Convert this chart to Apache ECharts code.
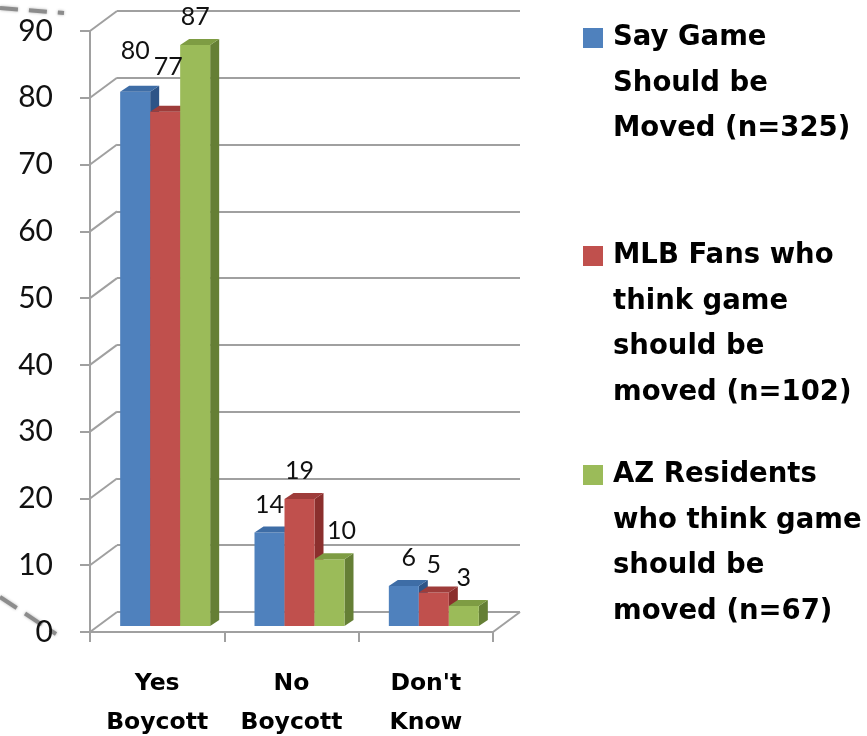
<!DOCTYPE html>
<html>
<head>
<meta charset="utf-8">
<script src="https://cdn.jsdelivr.net/npm/echarts@6/dist/echarts.min.js"></script>
<style>html,body{margin:0;padding:0;background:#fff}#c{width:867px;height:736px}</style>
</head>
<body>
<div id="c"></div>
<script>
// ---- data ----
const categories = ['Yes\nBoycott', 'No\nBoycott', "Don't\nKnow"];
const seriesNames = [
  'Say Game Should be Moved (n=325)',
  'MLB Fans who think game should be moved (n=102)',
  'AZ Residents who think game should be moved (n=67)'
];
const legendLines = [
  ['Say Game', 'Should be', 'Moved (n=325)'],
  ['MLB Fans who', 'think game', 'should be', 'moved (n=102)'],
  ['AZ Residents', 'who think game', 'should be', 'moved (n=67)']
];
const sayGameMoved = [80, 14, 6];
const mlbFans = [77, 19, 5];
const azResidents = [87, 10, 3];
const yTicks = [0, 10, 20, 30, 40, 50, 60, 70, 80, 90];

// ---- styles ----
const FONT = 'Lato, "Open Sans", sans-serif';
const BOLD_FONT = '"DejaVu Sans", sans-serif';
const GRID_COLOR = '#A0A0A0';
const faces = [
  { front: '#4F81BD', top: '#3E6DA6', side: '#2E5487' },
  { front: '#C0504D', top: '#9E3C3A', side: '#8B2F2D' },
  { front: '#9BBB59', top: '#7E9C43', side: '#657F35' }
];
const BW = 30, DX = 9, DY = 6, LABEL_LIFT = 28;
const labelNudge = { '0-0': [0, -13], '1-0': [3, -17], '2-1': [12, 0], '0-2': [5, 0] };
const legendTops = [19, 237, 456];

const allValues = [sayGameMoved, mlbFans, azResidents];

function barRender(k) {
  return function (params, api) {
    const ci = api.value(0), v = api.value(1);
    const base = api.coord([ci, 0]);
    const top = api.coord([ci, v]);
    const x0 = base[0] - 1.5 * BW + k * BW;
    const x1 = x0 + BW;
    const yt = top[1], yb = base[1];
    const f = faces[k];
    const nud = labelNudge[k + '-' + ci] || [0, 0];
    return {
      type: 'group',
      children: [
        { type: 'polygon', shape: { points: [[x1, yt], [x1 + DX, yt - DY], [x1 + DX, yb - DY], [x1, yb]] }, style: { fill: f.side } },
        { type: 'rect', shape: { x: x0, y: yt, width: BW, height: yb - yt }, style: { fill: f.front } },
        { type: 'polygon', shape: { points: [[x0, yt], [x1, yt], [x1 + DX, yt - DY], [x0 + DX, yt - DY]] }, style: { fill: f.top } },
        { type: 'text', z2: 100, style: { text: String(v), x: (x0 + x1) / 2 + nud[0], y: yt - LABEL_LIFT + nud[1], align: 'center', verticalAlign: 'middle', fontSize: 25, fontFamily: FONT, fill: '#111' } }
      ]
    };
  };
}

const legendFormatter = function (name) {
  const i = seriesNames.indexOf(name);
  const lines = legendLines[i];
  let s = '{sq' + i + '|}{gap|}{t|' + lines[0] + '}';
  for (let j = 1; j < lines.length; j++) s += '\n{sp|}{t|' + lines[j] + '}';
  for (let j = lines.length; j < 4; j++) s += '\n{sp|}';
  return s;
};
const LH = 45.5;
const rich = {
  gap: { width: 10, lineHeight: LH },
  sp: { width: 30, lineHeight: LH },
  t: { fontSize: 27.5, fontWeight: 'bold', fontFamily: BOLD_FONT, color: '#000', lineHeight: LH }
};
faces.forEach((f, i) => { rich['sq' + i] = { width: 20, height: 20, backgroundColor: f.front, lineHeight: LH }; });

const chart = echarts.init(document.getElementById('c'));
chart.setOption({
  animation: false,
  backgroundColor: '#fff',
  grid: [
    { left: 98, top: 25, width: 403, height: 601, outerBoundsMode: 'none', containLabel: false },   // bars (mid depth)
    { left: 117, top: 11, width: 403, height: 601, outerBoundsMode: 'none', containLabel: false },  // back wall
    { left: 90, top: 31, width: 403, height: 601, outerBoundsMode: 'none', containLabel: false }    // front axes
  ],
  xAxis: [
    { gridIndex: 0, type: 'category', data: categories, show: false },
    { gridIndex: 1, type: 'category', data: categories, show: false },
    {
      gridIndex: 2, type: 'category', data: categories,
      axisLine: { lineStyle: { color: GRID_COLOR, width: 2 } },
      axisTick: { show: true, length: 10, interval: 0, lineStyle: { color: GRID_COLOR, width: 2 } },
      axisLabel: { interval: 0, margin: 32, fontSize: 23.5, fontWeight: 'bold', fontFamily: BOLD_FONT, color: '#000', lineHeight: 39 }
    }
  ],
  yAxis: [
    { gridIndex: 0, type: 'value', min: 0, max: 90, interval: 10, show: false },
    {
      gridIndex: 1, type: 'value', min: 0, max: 90, interval: 10,
      axisLine: { show: false }, axisTick: { show: false }, axisLabel: { show: false },
      splitLine: { show: true, lineStyle: { color: GRID_COLOR, width: 2 } }
    },
    {
      gridIndex: 2, type: 'value', min: 0, max: 90, interval: 10,
      axisLine: { show: true, lineStyle: { color: GRID_COLOR, width: 2 } },
      axisTick: { show: true, length: 10, lineStyle: { color: GRID_COLOR, width: 2 } },
      splitLine: { show: false },
      axisLabel: { margin: 37, fontSize: 30, fontFamily: FONT, color: '#111', padding: [6, 0, 0, 0] }
    }
  ],
  legend: seriesNames.map((nm, i) => ({
    orient: 'vertical', left: 573, top: legendTops[i],
    icon: 'none', itemWidth: 0, itemHeight: 10,
    selectedMode: false,
    data: [nm],
    formatter: legendFormatter,
    textStyle: { rich: rich }
  })),
  graphic: [
    { type: 'polyline', shape: { points: [[0, 8], [64, 13]] }, style: { stroke: '#8c8c8c', lineWidth: 4, lineDash: [18, 11], shadowBlur: 3, shadowColor: 'rgba(0,0,0,0.3)' } },
    { type: 'polyline', shape: { points: [[0, 597], [56, 634]] }, style: { stroke: '#8c8c8c', lineWidth: 4, lineDash: [20, 10], shadowBlur: 3, shadowColor: 'rgba(0,0,0,0.3)' } }
  ],
  series: [
    {
      type: 'custom', name: 'connectors', xAxisIndex: 2, yAxisIndex: 2,
      data: yTicks.map(v => [0, v]),
      renderItem: function (params, api) {
        const cs = params.coordSys;
        const y = api.coord([0, api.value(1)])[1];
        return { type: 'line', shape: { x1: cs.x, y1: y, x2: cs.x + 27, y2: y - 20 }, style: { stroke: GRID_COLOR, lineWidth: 2 } };
      }
    },
    {
      type: 'custom', name: 'floorEdge', xAxisIndex: 2, yAxisIndex: 2,
      data: [[categories.length - 1, 0]],
      renderItem: function (params, api) {
        const cs = params.coordSys;
        const y = api.coord([0, 0])[1];
        return { type: 'line', shape: { x1: cs.x + cs.width, y1: y, x2: cs.x + cs.width + 27, y2: y - 20 }, style: { stroke: GRID_COLOR, lineWidth: 2 } };
      }
    }
  ].concat(allValues.map((vals, k) => ({
    type: 'custom', name: seriesNames[k], xAxisIndex: 0, yAxisIndex: 0,
    itemStyle: { color: faces[k].front },
    encode: { x: 0, y: 1 },
    data: vals.map((v, i) => [i, v]),
    renderItem: barRender(k)
  })))
});
</script>
</body>
</html>
